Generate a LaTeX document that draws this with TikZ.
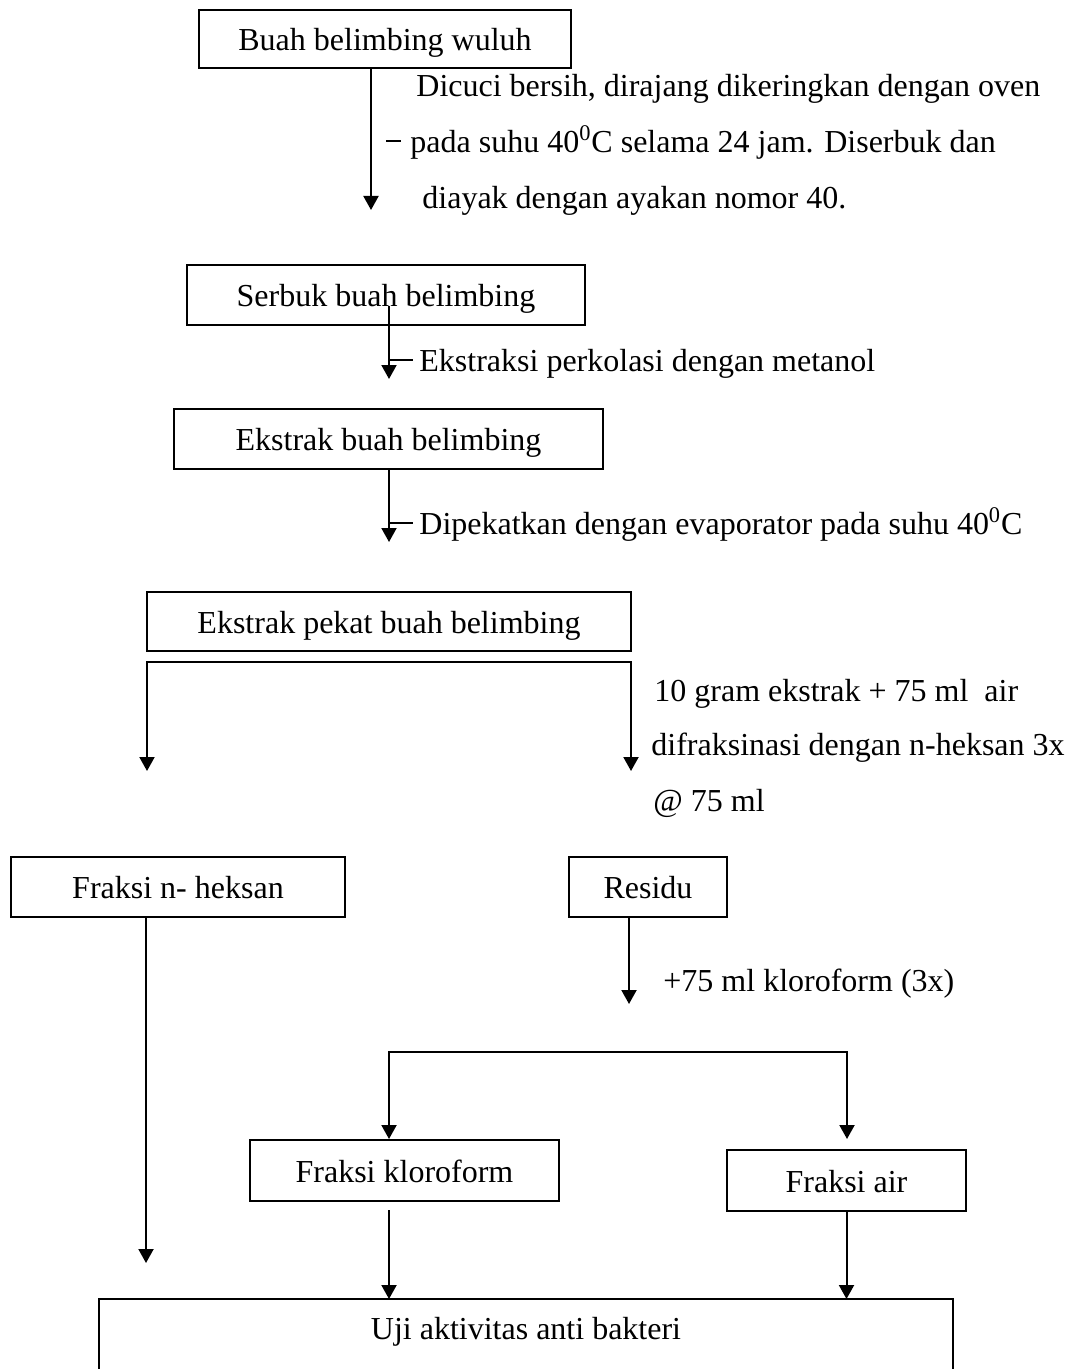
\documentclass[tikz,border=0pt]{standalone}
\usepackage{fontspec}
\setmainfont{Liberation Serif}
\usetikzlibrary{arrows.meta}
\begin{document}
\begin{tikzpicture}[x=0.5pt,y=-0.5pt,
  every node/.style={font=\fontsize{16}{19}\selectfont,text height=13pt,text depth=1.4pt},
  box/.style={draw,line width=1pt,inner sep=0pt,align=center},
  lbl/.style={anchor=west,inner sep=0pt},
  conn/.style={line width=1pt},
  arr/.style={line width=1pt,-{Triangle[length=7pt,width=7.5pt]}},
  darr/.style={line width=1pt,{Triangle[length=7pt,width=7.5pt]}-{Triangle[length=7pt,width=7.5pt]}}]
\useasboundingbox (0,0) rectangle (1070,1369);
% boxes
\node[box,minimum width=186pt,minimum height=29pt] (b1) at (385,39) {Buah belimbing wuluh};
\node[box,minimum width=199pt,minimum height=30pt] (b2) at (386,295) {Serbuk buah belimbing};
\node[box,minimum width=214.5pt,minimum height=30pt] (b3) at (388.5,439) {Ekstrak buah belimbing};
\node[box,minimum width=242pt,minimum height=29.5pt] (b4) at (389,621.5) {Ekstrak pekat buah belimbing};
\node[box,minimum width=167pt,minimum height=30pt] (b5) at (178,887) {Fraksi n- heksan};
\node[box,minimum width=79pt,minimum height=30pt] (b6) at (648,887) {Residu};
\node[box,minimum width=154.5pt,minimum height=30.5pt] (b7) at (404.5,1170.5) {Fraksi kloroform};
\node[box,minimum width=119.5pt,minimum height=30.5pt] (b8) at (846.5,1180.5) {Fraksi air};
\node[inner sep=0pt] (b9) at (526,1328) {Uji aktivitas anti bakteri};
\coordinate (u1) at (99,1369);
\coordinate (u2) at (953,1299);
\coordinate (u3) at (953,1369);
\draw[conn] (u1) |- (u2) -- (u3);
% labels
\node[lbl] (t1a) at (416,85) {Dicuci bersih, dirajang dikeringkan dengan oven};
\node[lbl] (t1b) at (410,141) {pada suhu 40\textsuperscript{0}C selama 24 jam. Diserbuk dan};
\node[lbl] (t1c) at (422,197) {diayak dengan ayakan nomor 40.};
\node[lbl] (t2) at (419,360) {Ekstraksi perkolasi dengan metanol};
\node[lbl] (t3) at (419,523) {Dipekatkan dengan evaporator pada suhu 40\textsuperscript{0}C};
\node[lbl] (t4a) at (654,690) {10 gram ekstrak + 75 ml\ \ air};
\node[lbl] (t4b) at (651,744) {difraksinasi dengan n-heksan 3x};
\node[lbl] (t4c) at (653,800) {@ 75 ml};
\node[lbl] (t5) at (663,980) {+75 ml kloroform (3x)};
% connectors
\coordinate (a1) at (371,210);
\draw[arr] (b1.south -| a1) -- (a1);
\coordinate (d1s) at (386,141);
\draw[conn] (d1s) -- ([xshift=-4.5pt]t1b.west);
\coordinate (a2s) at (389,306);
\coordinate (a2) at (389,379);
\draw[arr] (a2s) -- (a2);
\draw[conn] (a2s |- t2) -- ([xshift=-3pt]t2.west);
\coordinate (a3) at (389,542);
\draw[arr] (b3.south -| a3) -- (a3);
\draw[conn] (a3 |- t3) -- ([xshift=-3pt]t3.west);
\coordinate (a4l) at (147,771);
\coordinate (a4r) at (631,771);
\coordinate (j4) at (389,662);
\draw[darr] (a4l) |- (j4) -| (a4r);
\coordinate (a5) at (146,1263);
\draw[arr] (b5.south -| a5) -- (a5);
\coordinate (a6) at (629,1004);
\draw[arr] (b6.south -| a6) -- (a6);
\coordinate (j7) at (389,1052);
\coordinate (a8) at (847,1139);
\draw[darr] (b7.north -| j7) |- (j7) -| (a8);
\coordinate (a7s) at (389,1210);
\draw[arr] (a7s) -- (a7s |- u2);
\draw[arr] (b8.south) -- (b8.south |- u2);
\end{tikzpicture}
\end{document}
